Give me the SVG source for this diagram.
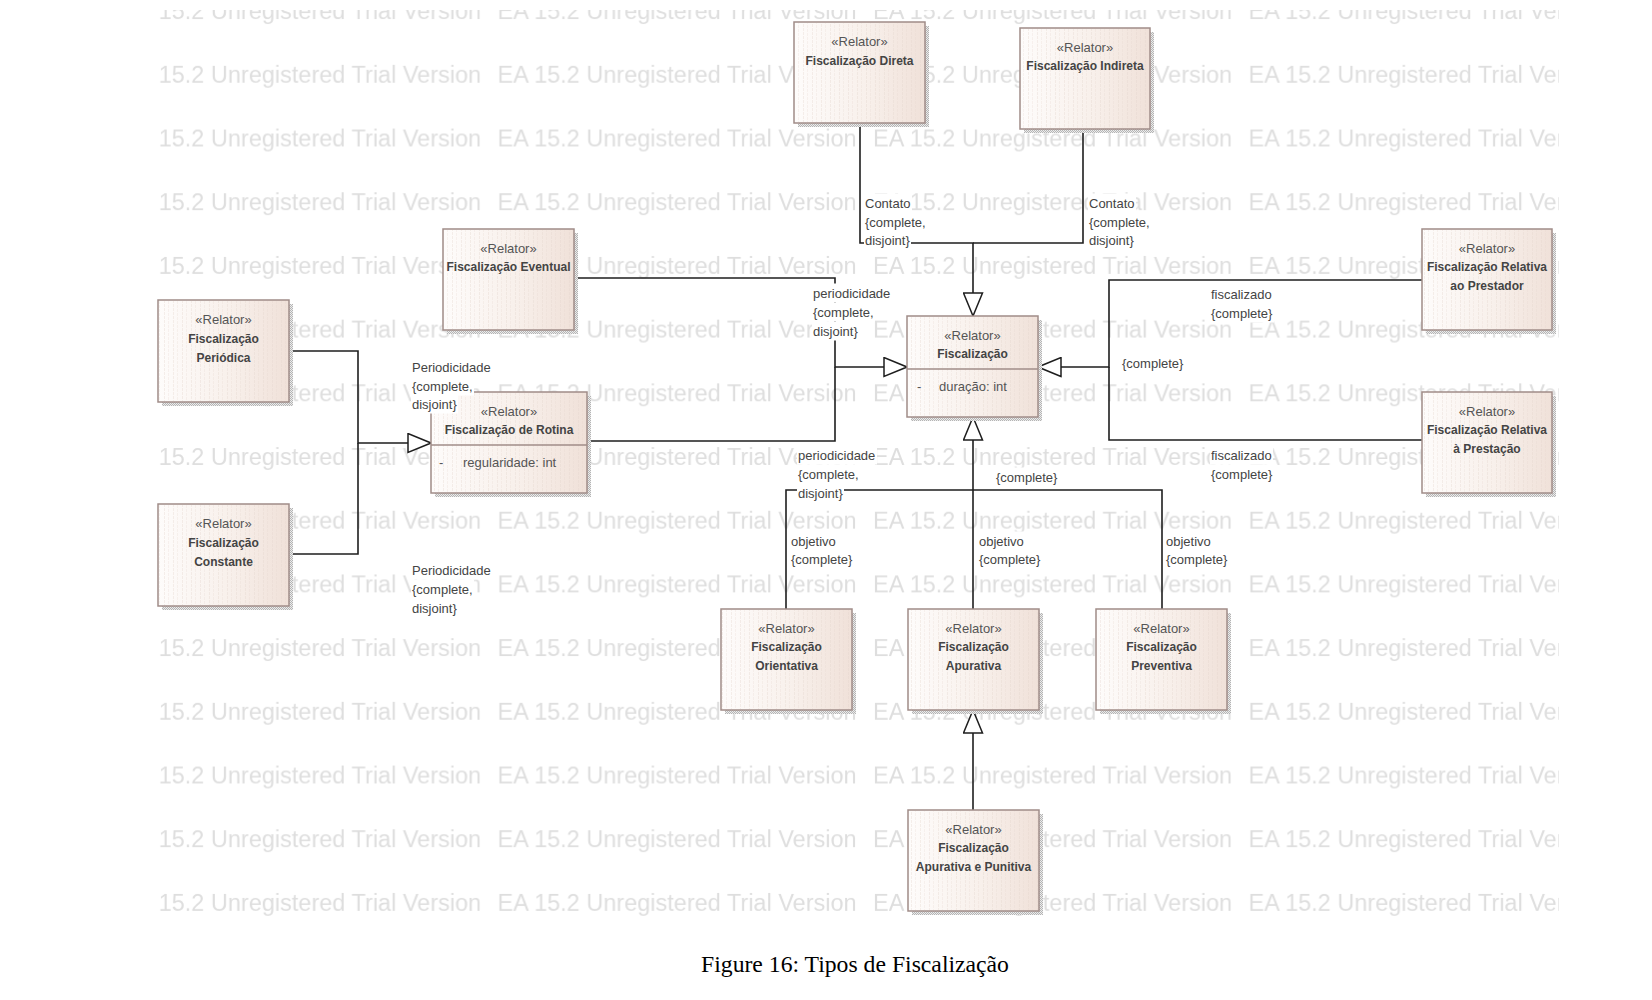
<svg xmlns="http://www.w3.org/2000/svg" width="1652" height="1000" viewBox="0 0 1652 1000">
  <style>
    .wm { font-family: "Liberation Sans", Arial, sans-serif; font-size: 23.5px; fill: #dedede; }
    .st { font-family: "Liberation Sans", Arial, sans-serif; font-size: 13px; fill: #555; text-anchor: middle; }
    .nm { font-family: "Liberation Sans", Arial, sans-serif; font-size: 12px; font-weight: bold; fill: #444; text-anchor: middle; }
    .at { font-family: "Liberation Sans", Arial, sans-serif; font-size: 13px; fill: #555; }
    .lb { font-family: "Liberation Sans", Arial, sans-serif; font-size: 13px; fill: #444; }
    .lbg { fill: #ffffff; }
    .sh { fill: url(#dots); }
    .bx { fill: url(#boxfill); stroke: #a08c88; stroke-width: 1.5; }
    .tx { fill: url(#grain); }
    .dv { stroke: #a08c88; stroke-width: 1.5; }
    .cn { fill: none; stroke: #1e1e1e; stroke-width: 1.6; }
    .cap { font-family: "Liberation Serif", "Times New Roman", serif; font-size: 23.7px; fill: #000; text-anchor: middle; }
  </style>
  <defs>
    <!-- repeated background watermark line -->
    <pattern id="wm" patternUnits="userSpaceOnUse" x="122" y="-30.7" width="375.5" height="63.7">
      <text class="wm" x="0" y="50">EA 15.2 Unregistered Trial Version</text>
    </pattern>
    <linearGradient id="boxfill" x1="0" y1="0" x2="1" y2="0">
      <stop offset="0" stop-color="#fefcfb"/>
      <stop offset="0.55" stop-color="#f8f0eb"/>
      <stop offset="1" stop-color="#f0e1d9"/>
    </linearGradient>
    <!-- faint vertical streak texture of the class boxes -->
    <pattern id="grain" patternUnits="userSpaceOnUse" width="9" height="4">
      <rect x="2" y="0" width="1" height="3" fill="#e2d2ca" opacity="0.35"/>
      <rect x="6" y="1" width="1" height="3" fill="#e2d2ca" opacity="0.25"/>
    </pattern>
    <!-- checkered drop shadow -->
    <pattern id="dots" patternUnits="userSpaceOnUse" width="2" height="2">
      <rect width="2" height="2" fill="#ececec"/>
      <rect width="1" height="1" fill="#b4b4b4"/>
      <rect x="1" y="1" width="1" height="1" fill="#b4b4b4"/>
    </pattern>
    <!-- hollow generalization arrowhead -->
    <marker id="gen" viewBox="-1 -1 25 21" refX="23" refY="9.5" markerWidth="25" markerHeight="21" markerUnits="userSpaceOnUse" orient="auto">
      <path d="M0,0 L23,9.5 L0,19 Z" fill="#ffffff" stroke="#1e1e1e" stroke-width="1.5"/>
    </marker>
  </defs>

  <rect width="1652" height="1000" fill="#ffffff"/>
  <rect x="155" y="10" width="1404" height="910" fill="url(#wm)"/>

  <!-- generalization connectors -->
  <g id="connectors">
    <path class="cn" d="M860,123 V243 H973 V316" marker-end="url(#gen)"/>
    <path class="cn" d="M1083,129 V243 H973"/>
    <path class="cn" d="M574,278 H835 V367 H907" marker-end="url(#gen)"/>
    <path class="cn" d="M587,441 H835 V367"/>
    <path class="cn" d="M289,351 H358 V443 H431" marker-end="url(#gen)"/>
    <path class="cn" d="M289,554 H358 V443"/>
    <path class="cn" d="M1422,280 H1109 V367 H1038" marker-end="url(#gen)"/>
    <path class="cn" d="M1422,440 H1109 V367"/>
    <path class="cn" d="M973,609 V417" marker-end="url(#gen)"/>
    <path class="cn" d="M786,609 V490 H973"/>
    <path class="cn" d="M1162,609 V490 H973"/>
    <path class="cn" d="M973,810 V710" marker-end="url(#gen)"/>
  </g>

  <!-- classes -->
  <g id="fiscalizacao-direta">
    <rect class="sh" x="798" y="26" width="131" height="101"/>
    <rect class="bx" x="794" y="22" width="131" height="101"/>
    <rect class="tx" x="795" y="23" width="129" height="99"/>
    <text class="st" x="859.5" y="46">«Relator»</text>
    <text class="nm" x="859.5" y="64.5">Fiscalização Direta</text>
  </g>
  <g id="fiscalizacao-indireta">
    <rect class="sh" x="1024" y="32" width="130" height="101"/>
    <rect class="bx" x="1020" y="28" width="130" height="101"/>
    <rect class="tx" x="1021" y="29" width="128" height="99"/>
    <text class="st" x="1085" y="51.5">«Relator»</text>
    <text class="nm" x="1085" y="70">Fiscalização Indireta</text>
  </g>
  <g id="fiscalizacao-eventual">
    <rect class="sh" x="447" y="233" width="131" height="101"/>
    <rect class="bx" x="443" y="229" width="131" height="101"/>
    <rect class="tx" x="444" y="230" width="129" height="99"/>
    <text class="st" x="508.5" y="252.5">«Relator»</text>
    <text class="nm" x="508.5" y="271">Fiscalização Eventual</text>
  </g>
  <g id="fiscalizacao-periodica">
    <rect class="sh" x="162" y="304" width="131" height="102"/>
    <rect class="bx" x="158" y="300" width="131" height="102"/>
    <rect class="tx" x="159" y="301" width="129" height="100"/>
    <text class="st" x="223.5" y="323.5">«Relator»</text>
    <text class="nm" x="223.5" y="342.5">Fiscalização</text>
    <text class="nm" x="223.5" y="361.5">Periódica</text>
  </g>
  <g id="fiscalizacao-constante">
    <rect class="sh" x="162" y="508" width="131" height="102"/>
    <rect class="bx" x="158" y="504" width="131" height="102"/>
    <rect class="tx" x="159" y="505" width="129" height="100"/>
    <text class="st" x="223.5" y="527.5">«Relator»</text>
    <text class="nm" x="223.5" y="546.5">Fiscalização</text>
    <text class="nm" x="223.5" y="565.5">Constante</text>
  </g>
  <g id="fiscalizacao-de-rotina">
    <rect class="sh" x="435" y="396" width="156" height="101"/>
    <rect class="bx" x="431" y="392" width="156" height="101"/>
    <rect class="tx" x="432" y="393" width="154" height="99"/>
    <line class="dv" x1="431" y1="445" x2="587" y2="445"/>
    <text class="st" x="509" y="415.5">«Relator»</text>
    <text class="nm" x="509" y="433.5">Fiscalização de Rotina</text>
    <text class="at" x="439" y="466.5">-</text>
    <text class="at" x="463" y="466.5">regularidade: int</text>
  </g>
  <g id="fiscalizacao">
    <rect class="sh" x="911" y="320" width="131" height="101"/>
    <rect class="bx" x="907" y="316" width="131" height="101"/>
    <rect class="tx" x="908" y="317" width="129" height="99"/>
    <line class="dv" x1="907" y1="369" x2="1038" y2="369"/>
    <text class="st" x="972.5" y="339.5">«Relator»</text>
    <text class="nm" x="972.5" y="357.5">Fiscalização</text>
    <text class="at" x="917" y="390.5">-</text>
    <text class="at" x="939" y="390.5">duração: int</text>
  </g>
  <g id="fiscalizacao-relativa-prestador">
    <rect class="sh" x="1426" y="233" width="130" height="101"/>
    <rect class="bx" x="1422" y="229" width="130" height="101"/>
    <rect class="tx" x="1423" y="230" width="128" height="99"/>
    <text class="st" x="1487" y="252.5">«Relator»</text>
    <text class="nm" x="1487" y="271">Fiscalização Relativa</text>
    <text class="nm" x="1487" y="290">ao Prestador</text>
  </g>
  <g id="fiscalizacao-relativa-prestacao">
    <rect class="sh" x="1426" y="396" width="130" height="101"/>
    <rect class="bx" x="1422" y="392" width="130" height="101"/>
    <rect class="tx" x="1423" y="393" width="128" height="99"/>
    <text class="st" x="1487" y="415.5">«Relator»</text>
    <text class="nm" x="1487" y="434">Fiscalização Relativa</text>
    <text class="nm" x="1487" y="453">à Prestação</text>
  </g>
  <g id="fiscalizacao-orientativa">
    <rect class="sh" x="725" y="613" width="131" height="101"/>
    <rect class="bx" x="721" y="609" width="131" height="101"/>
    <rect class="tx" x="722" y="610" width="129" height="99"/>
    <text class="st" x="786.5" y="632.5">«Relator»</text>
    <text class="nm" x="786.5" y="651">Fiscalização</text>
    <text class="nm" x="786.5" y="670">Orientativa</text>
  </g>
  <g id="fiscalizacao-apurativa">
    <rect class="sh" x="912" y="613" width="131" height="101"/>
    <rect class="bx" x="908" y="609" width="131" height="101"/>
    <rect class="tx" x="909" y="610" width="129" height="99"/>
    <text class="st" x="973.5" y="632.5">«Relator»</text>
    <text class="nm" x="973.5" y="651">Fiscalização</text>
    <text class="nm" x="973.5" y="670">Apurativa</text>
  </g>
  <g id="fiscalizacao-preventiva">
    <rect class="sh" x="1100" y="613" width="131" height="101"/>
    <rect class="bx" x="1096" y="609" width="131" height="101"/>
    <rect class="tx" x="1097" y="610" width="129" height="99"/>
    <text class="st" x="1161.5" y="632.5">«Relator»</text>
    <text class="nm" x="1161.5" y="651">Fiscalização</text>
    <text class="nm" x="1161.5" y="670">Preventiva</text>
  </g>
  <g id="fiscalizacao-apurativa-punitiva">
    <rect class="sh" x="912" y="814" width="131" height="101"/>
    <rect class="bx" x="908" y="810" width="131" height="101"/>
    <rect class="tx" x="909" y="811" width="129" height="99"/>
    <text class="st" x="973.5" y="833.5">«Relator»</text>
    <text class="nm" x="973.5" y="852">Fiscalização</text>
    <text class="nm" x="973.5" y="871">Apurativa e Punitiva</text>
  </g>

  <!-- generalization set labels -->
  <g id="labels">
    <rect class="lbg" x="864" y="193.5" width="48" height="19"/><text class="lb" x="865" y="207.5">Contato</text>
    <rect class="lbg" x="864" y="212.5" width="63" height="19"/><text class="lb" x="865" y="226.5">{complete,</text>
    <rect class="lbg" x="864" y="231" width="47" height="19"/><text class="lb" x="865" y="245">disjoint}</text>

    <rect class="lbg" x="1088" y="193.5" width="48" height="19"/><text class="lb" x="1089" y="207.5">Contato</text>
    <rect class="lbg" x="1088" y="212.5" width="63" height="19"/><text class="lb" x="1089" y="226.5">{complete,</text>
    <rect class="lbg" x="1088" y="231" width="47" height="19"/><text class="lb" x="1089" y="245">disjoint}</text>

    <rect class="lbg" x="812" y="283.5" width="80" height="19"/><text class="lb" x="813" y="297.5">periodicidade</text>
    <rect class="lbg" x="812" y="302.5" width="63" height="19"/><text class="lb" x="813" y="316.5">{complete,</text>
    <rect class="lbg" x="812" y="321.5" width="47" height="19"/><text class="lb" x="813" y="335.5">disjoint}</text>

    <rect class="lbg" x="411" y="357.5" width="81" height="19"/><text class="lb" x="412" y="371.5">Periodicidade</text>
    <rect class="lbg" x="411" y="376.5" width="63" height="19"/><text class="lb" x="412" y="390.5">{complete,</text>
    <rect class="lbg" x="411" y="394.5" width="47" height="19"/><text class="lb" x="412" y="408.5">disjoint}</text>

    <rect class="lbg" x="411" y="560.5" width="81" height="19"/><text class="lb" x="412" y="574.5">Periodicidade</text>
    <rect class="lbg" x="411" y="579.5" width="63" height="19"/><text class="lb" x="412" y="593.5">{complete,</text>
    <rect class="lbg" x="411" y="598.5" width="47" height="19"/><text class="lb" x="412" y="612.5">disjoint}</text>

    <rect class="lbg" x="797" y="445.5" width="80" height="19"/><text class="lb" x="798" y="459.5">periodicidade</text>
    <rect class="lbg" x="797" y="464.5" width="63" height="19"/><text class="lb" x="798" y="478.5">{complete,</text>
    <rect class="lbg" x="797" y="483.5" width="47" height="19"/><text class="lb" x="798" y="497.5">disjoint}</text>

    <rect class="lbg" x="995" y="467.5" width="64" height="19"/><text class="lb" x="996" y="481.5">{complete}</text>

    <rect class="lbg" x="790" y="531.5" width="47" height="19"/><text class="lb" x="791" y="545.5">objetivo</text>
    <rect class="lbg" x="790" y="550" width="64" height="19"/><text class="lb" x="791" y="564">{complete}</text>

    <rect class="lbg" x="978" y="531.5" width="47" height="19"/><text class="lb" x="979" y="545.5">objetivo</text>
    <rect class="lbg" x="978" y="550" width="64" height="19"/><text class="lb" x="979" y="564">{complete}</text>

    <rect class="lbg" x="1165" y="531.5" width="47" height="19"/><text class="lb" x="1166" y="545.5">objetivo</text>
    <rect class="lbg" x="1165" y="550" width="64" height="19"/><text class="lb" x="1166" y="564">{complete}</text>

    <rect class="lbg" x="1210" y="284.5" width="63" height="19"/><text class="lb" x="1211" y="298.5">fiscalizado</text>
    <rect class="lbg" x="1210" y="303.5" width="64" height="19"/><text class="lb" x="1211" y="317.5">{complete}</text>

    <rect class="lbg" x="1121" y="353.5" width="64" height="19"/><text class="lb" x="1122" y="367.5">{complete}</text>

    <rect class="lbg" x="1210" y="445.5" width="63" height="19"/><text class="lb" x="1211" y="459.5">fiscalizado</text>
    <rect class="lbg" x="1210" y="464.5" width="64" height="19"/><text class="lb" x="1211" y="478.5">{complete}</text>
  </g>

  <text class="cap" x="855" y="972">Figure 16: Tipos de Fiscalização</text>
</svg>
